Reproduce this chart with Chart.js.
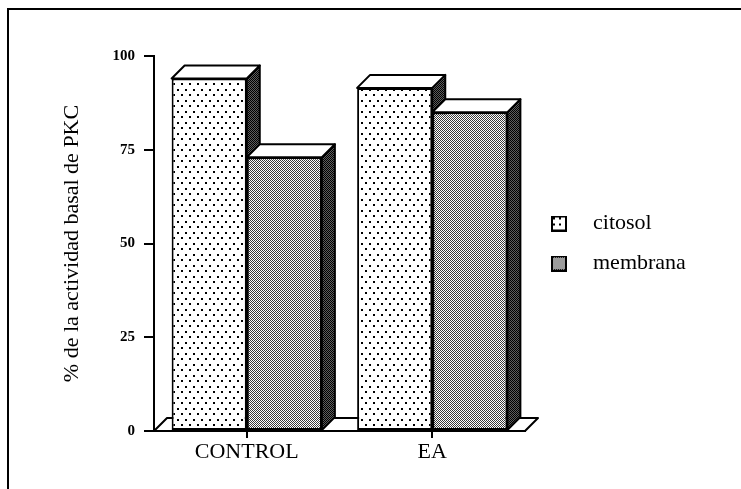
<!DOCTYPE html>
<html><head><meta charset="utf-8">
<script src="https://cdn.jsdelivr.net/npm/chart.js@4"></script>
<style>html,body{margin:0;padding:0;background:#fff;overflow:hidden}canvas{display:block}</style>
</head><body>
<canvas id="c" width="741" height="489"></canvas>
<script>
const categories = ['CONTROL', 'EA'];
const seriesNames = ['citosol', 'membrana'];
const citosolValues = [94, 91.5];
const membranaValues = [73, 85];
const yTickValues = [0, 25, 50, 75, 100];
const yTitle = '% de la actividad basal de PKC';

const FONT = "'Liberation Serif', 'Times New Roman', serif";
Chart.defaults.font.family = FONT;
Chart.defaults.color = '#000';

function makeTile(w, h, bg, draw) {
  const c = document.createElement('canvas'); c.width = w; c.height = h;
  const x = c.getContext('2d'); x.fillStyle = bg; x.fillRect(0, 0, w, h); x.fillStyle = '#000'; draw(x); return c;
}
const canvas = document.getElementById('c');
const ctx0 = canvas.getContext('2d');
const dotTile = makeTile(8, 11, '#fff', x => { x.fillRect(1, 1, 2, 2); x.fillRect(5, 6, 2, 2); });
const greyTile = makeTile(2, 2, '#fff', x => { x.fillStyle = '#3a3a3a'; x.fillRect(0, 0, 1, 1); x.fillRect(1, 1, 1, 1); });
const darkTile = makeTile(2, 2, '#5e5e5e', x => { x.fillRect(0, 0, 1, 1); x.fillRect(1, 1, 1, 1); });
const dotPat = ctx0.createPattern(dotTile, 'repeat');
const greyPat = ctx0.createPattern(greyTile, 'repeat');
const sidePat = ctx0.createPattern(darkTile, 'repeat');

function legendImg(fill) {
  const c = document.createElement('canvas'); c.width = 23; c.height = 16;
  const x = c.getContext('2d');
  x.fillStyle = x.createPattern(fill, 'repeat'); x.fillRect(1, 1, 14, 14);
  x.strokeStyle = '#000'; x.lineWidth = 2; x.strokeRect(1, 1, 14, 14);
  return c;
}
const legendBoxTile = makeTile(6, 6, '#fff', x => { x.fillRect(2, 2, 2, 2); });
const legendImgs = [legendImg(legendBoxTile), legendImg(greyTile)];

const DX = 13, DY = 13;
const bar3d = {
  id: 'bar3d',
  beforeDraw(chart) {
    const c = chart.ctx; c.save();
    c.fillStyle = '#fff'; c.fillRect(0, 0, chart.width, chart.height);
    c.strokeStyle = '#000'; c.lineWidth = 2;
    c.beginPath(); c.moveTo(8, chart.height); c.lineTo(8, 9); c.lineTo(chart.width, 9); c.stroke();
    c.restore();
  },
  beforeDatasetsDraw(chart) {
    const c = chart.ctx, a = chart.chartArea;
    const b = chart.scales.y.getPixelForValue(0);
    c.save(); c.lineWidth = 2; c.strokeStyle = '#000'; c.lineJoin = 'round';
    c.beginPath(); c.moveTo(a.left, b); c.lineTo(a.left + DX, b - DY); c.lineTo(a.right + DX, b - DY); c.lineTo(a.right, b); c.closePath();
    c.fillStyle = '#fff'; c.fill(); c.stroke();
    categories.forEach((_, i) => {
      chart.data.datasets.forEach((ds, d) => {
        const el = chart.getDatasetMeta(d).data[i];
        const p = el.getProps(['x', 'y', 'base', 'width'], true);
        const l = p.x - p.width / 2, r = p.x + p.width / 2, top = p.y, base = p.base;
        c.beginPath(); c.moveTo(r, top); c.lineTo(r + DX, top - DY); c.lineTo(r + DX, base - DY); c.lineTo(r, base); c.closePath();
        c.fillStyle = sidePat; c.fill(); c.stroke();
        c.beginPath(); c.moveTo(l, top); c.lineTo(l + DX, top - DY); c.lineTo(r + DX, top - DY); c.lineTo(r, top); c.closePath();
        c.fillStyle = '#fff'; c.fill(); c.stroke();
      });
    });
    c.restore();
  }
};

new Chart(canvas, {
  type: 'bar',
  data: {
    labels: categories,
    datasets: [
      { label: seriesNames[0], data: citosolValues, backgroundColor: dotPat, borderColor: '#000', borderWidth: 2, borderSkipped: false },
      { label: seriesNames[1], data: membranaValues, backgroundColor: greyPat, borderColor: '#000', borderWidth: 2, borderSkipped: false }
    ]
  },
  options: {
    responsive: false, animation: false, devicePixelRatio: 1,
    layout: { padding: { top: 56, right: 51, left: 0, bottom: 0 } },
    datasets: { bar: { categoryPercentage: 0.81, barPercentage: 1.0 } },
    plugins: {
      tooltip: { enabled: false },
      legend: {
        position: 'right', align: 'center', fullSize: false, maxWidth: 165,
        labels: {
          usePointStyle: true, pointStyleWidth: 39, padding: 18,
          font: { family: FONT, size: 22 }, color: '#000',
          generateLabels: () => seriesNames.map((n, i) => ({
            text: n, pointStyle: legendImgs[i], fillStyle: '#fff', strokeStyle: '#000', lineWidth: 0, hidden: false, datasetIndex: i, fontColor: '#000'
          }))
        }
      }
    },
    scales: {
      x: {
        afterFit: s => { s.height = 58; },
        grid: { offset: false, drawOnChartArea: false, tickLength: 7, color: '#000', lineWidth: 2 },
        border: { display: true, color: '#000', width: 2 },
        ticks: { font: { family: FONT, size: 22 }, color: '#000', padding: 1 }
      },
      y: {
        min: 0, max: 100,
        afterFit: s => { s.width = 154; },
        afterBuildTicks: s => { s.ticks = yTickValues.map(v => ({ value: v })); },
        grid: { drawOnChartArea: false, tickLength: 10, color: '#000', lineWidth: 2 },
        border: { display: true, color: '#000', width: 2 },
        ticks: { font: { family: FONT, size: 15, weight: 'bold' }, color: '#000', padding: 9 },
        title: { display: true, text: yTitle, font: { family: FONT, size: 22 }, color: '#000', padding: { top: 59, bottom: 0 } }
      }
    }
  },
  plugins: [bar3d]
});
</script>
</body></html>
